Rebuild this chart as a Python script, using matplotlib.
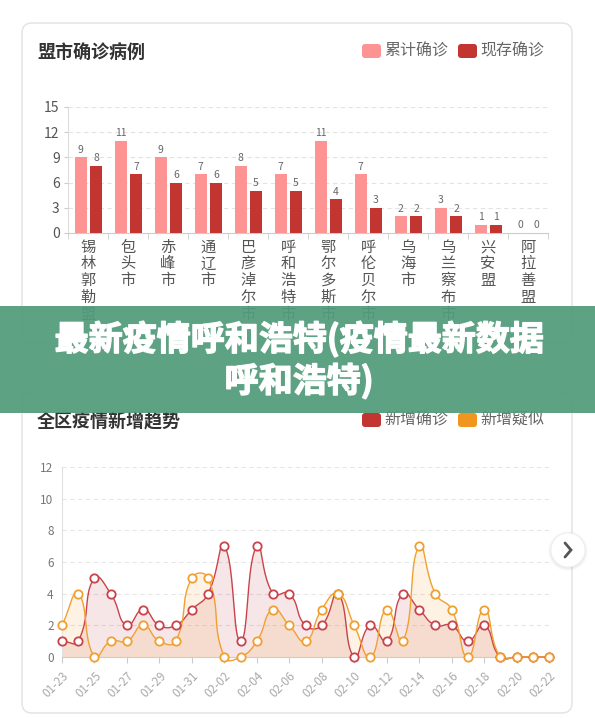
import numpy as np
import matplotlib
matplotlib.use("Agg")
import matplotlib.pyplot as plt
import matplotlib.patheffects as pe
from matplotlib.patches import FancyBboxPatch, Rectangle, Circle

plt.rcParams['font.family'] = ['Noto Sans CJK SC', 'DejaVu Sans']

W, H = 595, 718

# ---- data ----
cities = ['锡林郭勒盟', '包头市', '赤峰市', '通辽市', '巴彦淖尔市', '呼和浩特市',
          '鄂尔多斯市', '呼伦贝尔市', '乌海市', '乌兰察布市', '兴安盟', '阿拉善盟']
total = [9, 11, 9, 7, 8, 7, 11, 7, 2, 3, 1, 0]
current = [8, 7, 6, 6, 5, 5, 4, 3, 2, 2, 1, 0]

dates = ['01-23', '01-24', '01-25', '01-26', '01-27', '01-28', '01-29', '01-30',
         '01-31', '02-01', '02-02', '02-03', '02-04', '02-05', '02-06', '02-07',
         '02-08', '02-09', '02-10', '02-11', '02-12', '02-13', '02-14', '02-15',
         '02-16', '02-17', '02-18', '02-19', '02-20', '02-21', '02-22']
confirmed = [1, 1, 5, 4, 2, 3, 2, 2, 3, 4, 7, 1, 7, 4, 4, 2, 2, 4, 0, 2, 1, 4,
             3, 2, 2, 1, 2, 0, 0, 0, 0]
suspected = [2, 4, 0, 1, 1, 2, 1, 1, 5, 5, 0, 0, 1, 3, 2, 1, 3, 4, 2, 0, 3, 1,
             7, 4, 3, 0, 3, 0, 0, 0, 0]

c_pink = '#fd9393'
c_dark = '#c23531'
c_red = '#c8434a'
c_orange = '#f0a030'


def rect(l, t, r, b):
    return [l / W, 1 - b / H, (r - l) / W, (b - t) / H]


def smooth_line(xv, yv, s=0.5, n=24):
    # bezier smoothing similar to echarts "smooth: true"
    sx, sy = 16.23, 15.83
    P = np.column_stack([np.asarray(xv, float) * sx, np.asarray(yv, float) * sy])
    m = len(P)
    cin = np.zeros_like(P)
    cout = np.zeros_like(P)
    for i in range(m):
        prev = P[i - 1] if i > 0 else P[i]
        nxt = P[i + 1] if i < m - 1 else P[i]
        v = nxt - prev
        d0 = np.hypot(*(P[i] - prev))
        d1 = np.hypot(*(P[i] - nxt))
        tot = d0 + d1
        if tot == 0:
            cin[i] = P[i]
            cout[i] = P[i]
            continue
        cout[i] = P[i] + v * s * d1 / tot
        cin[i] = P[i] - v * s * d0 / tot
    t = np.linspace(0, 1, n)[:, None]
    segs = []
    for i in range(m - 1):
        p0, p1, p2, p3 = P[i], cout[i], cin[i + 1], P[i + 1]
        b = ((1 - t) ** 3) * p0 + 3 * ((1 - t) ** 2) * t * p1 + 3 * (1 - t) * t ** 2 * p2 + t ** 3 * p3
        segs.append(b if i == 0 else b[1:])
    B = np.vstack(segs)
    return B[:, 0] / sx, B[:, 1] / sy


fig = plt.figure(figsize=(W / 100, H / 100), dpi=100)
fig.patch.set_facecolor('white')

# background layer in pixel coords
bg = fig.add_axes([0, 0, 1, 1], zorder=-1)
bg.set_xlim(0, W)
bg.set_ylim(H, 0)
bg.axis('off')

for (t, b) in [(23, 343), (392, 713)]:
    bg.add_patch(FancyBboxPatch((22, t), 550, b - t,
                                boxstyle='round,pad=0,rounding_size=10',
                                facecolor='white', edgecolor='#e2e2e2', lw=1))

bg.text(37, 53, '盟市确诊病例', fontsize=13, fontweight='bold', color='#333333',
        va='center', ha='left')
bg.text(37, 422, '全区疫情新增趋势', fontsize=13, fontweight='bold', color='#333333',
        va='center', ha='left')


def legend_item(x, y, color, label):
    bg.add_patch(FancyBboxPatch((x, y - 7), 19, 14,
                                boxstyle='round,pad=0,rounding_size=3',
                                facecolor=color, edgecolor='none'))
    bg.text(x + 22, y, label, fontsize=11.5, color='#666666', va='center', ha='left')


legend_item(362, 51, c_pink, '累计确诊')
legend_item(458, 51, c_dark, '现存确诊')
legend_item(362, 420, c_dark, '新增确诊')
legend_item(458, 420, '#f0961e', '新增疑似')

# ---- bar chart ----
ax1 = fig.add_axes(rect(68, 107, 548, 233), zorder=1)
ax1.set_facecolor('none')
xi = np.arange(len(cities))
bw = 0.29
ax1.bar(xi - 0.18, total, width=bw, color=c_pink, zorder=3)
ax1.bar(xi + 0.2, current, width=bw, color=c_dark, zorder=3)
for i in xi:
    ax1.text(i - 0.18, total[i] + 0.3, str(total[i]), ha='center', va='bottom',
             fontsize=7.5, color='#666666')
    ax1.text(i + 0.2, current[i] + 0.3, str(current[i]), ha='center', va='bottom',
             fontsize=7.5, color='#666666')
ax1.set_xlim(-0.5, len(cities) - 0.5)
ax1.set_ylim(0, 15)
ax1.set_yticks([0, 3, 6, 9, 12, 15])
ax1.set_xticks(xi)
ax1.set_xticklabels(['\n'.join(c) for c in cities], fontsize=11, color='#555555',
                    linespacing=0.98, va='top')
ax1.set_xticks(np.arange(-0.5, len(cities), 1), minor=True)
ax1.tick_params(axis='x', which='major', length=0, pad=4)
ax1.tick_params(axis='x', which='minor', length=4, color='#cccccc')
ax1.tick_params(axis='y', length=3, color='#cccccc', labelsize=10,
                labelcolor='#555555', pad=3)
for y in [3, 6, 9, 12, 15]:
    ax1.axhline(y, color='#e3e3e3', lw=0.8, ls=(0, (4, 3)), zorder=1)
for sp in ['top', 'right']:
    ax1.spines[sp].set_visible(False)
ax1.spines['left'].set_color('#dddddd')
ax1.spines['bottom'].set_color('#cccccc')

# ---- line chart ----
ax2 = fig.add_axes(rect(62, 467, 549, 657), zorder=1)
ax2.set_facecolor('none')
xd = np.arange(len(dates))
for vals, col, fa in [(confirmed, c_red, 0.13), (suspected, c_orange, 0.13)]:
    sx, sy = smooth_line(xd, vals)
    ax2.fill_between(sx, sy, 0, color=col, alpha=fa, lw=0, zorder=2)
    ax2.plot(sx, sy, color=col, lw=1, zorder=3, clip_on=False)
for vals, col in [(confirmed, c_red), (suspected, c_orange)]:
    ax2.plot(xd, vals, ls='none', marker='o', ms=6, mfc='white', mec=col,
             mew=1.3, zorder=4, clip_on=False)
ax2.set_xlim(0, len(dates) - 1)
ax2.set_ylim(0, 12)
ax2.set_yticks(range(0, 13, 2))
ax2.set_xticks(xd[::2])
ax2.set_xticklabels(dates[::2], rotation=45, ha='right', va='top',
                    rotation_mode='anchor', fontsize=8.5, color='#aaaaaa')
ax2.tick_params(axis='x', length=4, color='#cccccc', pad=5)
ax2.tick_params(axis='y', length=0, labelsize=8.5, labelcolor='#777777', pad=6)
for y in range(2, 13, 2):
    ax2.axhline(y, color='#e6e6e6', lw=0.8, ls=(0, (4, 3)), zorder=1)
for sp in ['top', 'right']:
    ax2.spines[sp].set_visible(False)
ax2.spines['left'].set_color('#e0e0e0')
ax2.spines['bottom'].set_color('#cccccc')

# ---- overlay: banner and arrow button ----
ov = fig.add_axes([0, 0, 1, 1], zorder=10)
ov.set_xlim(0, W)
ov.set_ylim(H, 0)
ov.axis('off')
ov.patch.set_alpha(0)
ov.add_patch(Rectangle((0, 306), W, 107, facecolor='#529b7b', alpha=0.93,
                       edgecolor='none'))
heavy = [pe.withStroke(linewidth=1.0, foreground='white')]
ov.text(299, 339, '最新疫情呼和浩特(疫情最新数据', fontsize=24.5, fontweight='bold',
        color='white', ha='center', va='center', path_effects=heavy)
ov.text(299, 381, '呼和浩特)', fontsize=24.5, fontweight='bold',
        color='white', ha='center', va='center', path_effects=heavy)

for r, a in [(20, 0.03), (19, 0.05), (18, 0.07)]:
    ov.add_patch(Circle((568, 551), r, facecolor='#888888', alpha=a, edgecolor='none'))
ov.add_patch(Circle((568, 550), 17, facecolor='white', edgecolor='#eeeeee', lw=0.6))
ov.plot([565, 571, 565], [543, 550, 557], color='#555555', lw=2,
        solid_capstyle='round', solid_joinstyle='miter')

fig.savefig('out.png', dpi=100)
